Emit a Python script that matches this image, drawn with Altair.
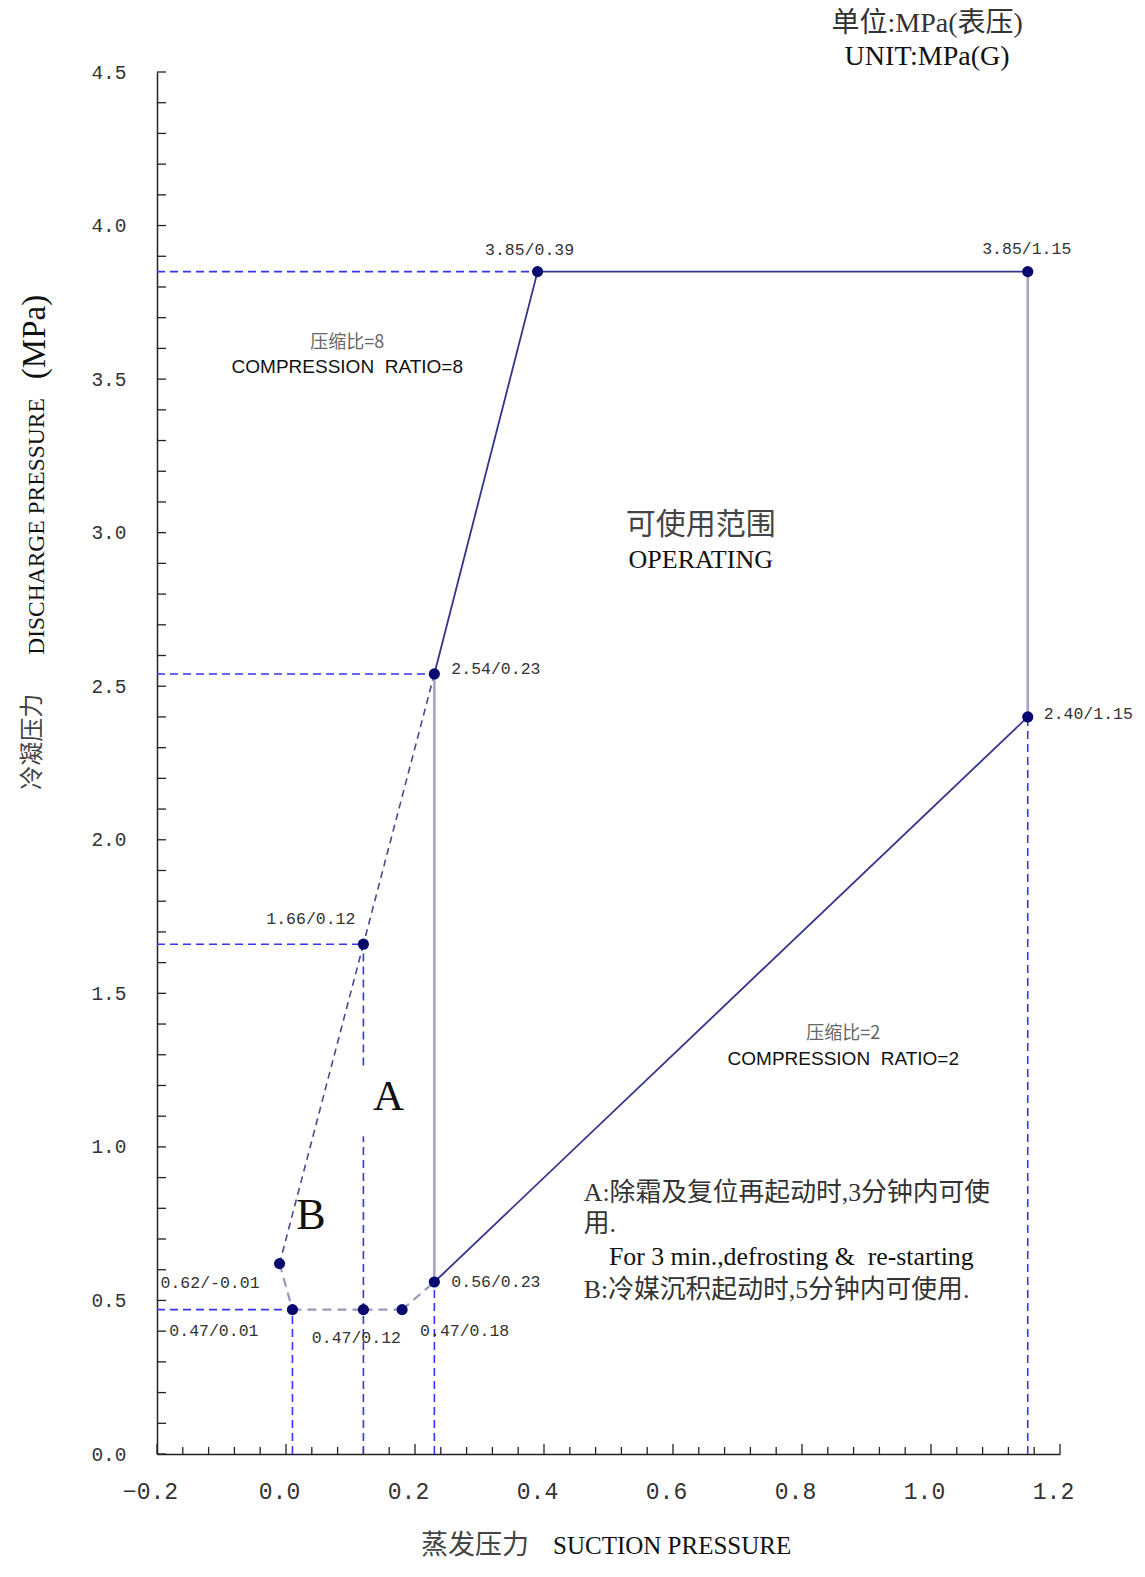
import altair as alt
import pandas as pd

# ---------------- data ----------------
suction = [0.39, 1.15, 1.15, 0.23, 0.23, 0.12, -0.01, 0.01, 0.12, 0.18]
discharge = [3.85, 3.85, 2.40, 2.54, 0.56, 1.66, 0.62, 0.47, 0.47, 0.47]
point_labels = ["3.85/0.39", "3.85/1.15", "2.40/1.15", "2.54/0.23", "0.56/0.23",
                "1.66/0.12", "0.62/-0.01", "0.47/0.01", "0.47/0.12", "0.47/0.18"]

# segments given as index pairs into the point lists
solid_pairs = [(0, 1), (2, 4), (3, 0)]
gray_pairs = [(1, 2), (4, 3)]
limit_pairs = [(3, 5), (5, 6)]
low_pairs = [(6, 7), (7, 8), (8, 9), (9, 4)]

# dashed guides to the axes
guide_h_idx = [0, 3, 5, 7]
guide_v_x = [0.01, 0.12, 0.12, 0.23, 1.15]
guide_v_from = [0.0, 0.0, 1.265, 0.0, 0.0]
guide_v_to = [0.47, 1.035, 1.66, 0.56, 2.40]

x_label_vals = [-0.2, 0.0, 0.2, 0.4, 0.6, 0.8, 1.0, 1.2]
y_label_vals = [0.0, 0.5, 1.0, 1.5, 2.0, 2.5, 3.0, 3.5, 4.0, 4.5]
x_minor_ticks = [round(-0.2 + 0.04 * i, 2) for i in range(36)]
y_minor_ticks = [round(0.1 * i, 1) for i in range(46)]

X0, X1, Y0, Y1 = -0.2, 1.2, 0.0, 4.5
W, H = 903, 1382

xs = alt.Scale(domain=[X0, X1], nice=False, zero=False)
ys = alt.Scale(domain=[Y0, Y1], nice=False, zero=False)

CJK = "'Noto Sans CJK SC'"
SERIF = "'Liberation Serif', 'Noto Sans CJK SC'"
MONO = "'Liberation Mono'"
NARROW = "'Liberation Sans Narrow', 'Liberation Sans', 'Noto Sans CJK SC'"

x_axis = alt.Axis(values=x_label_vals, format=".1f", title=None, grid=False, ticks=False,
                  domainColor="#222222", domainWidth=1.5, labelFont=MONO, labelFontSize=23,
                  labelColor="#333333", labelPadding=26, labelOffset=-7, labelFlush=False)
y_axis = alt.Axis(values=y_label_vals, format=".1f", title=None, grid=False, ticks=False,
                  domainColor="#222222", domainWidth=1.5, labelFont=MONO, labelFontSize=19.5,
                  labelColor="#333333", labelPadding=31, labelFlush=False)

def XE(f):
    return alt.X(f, scale=xs, axis=x_axis)

def YE(f):
    return alt.Y(f, scale=ys, axis=y_axis)

def seg_df(pairs):
    return pd.DataFrame({
        "x": [suction[a] for a, b in pairs],
        "y": [discharge[a] for a, b in pairs],
        "x2": [suction[b] for a, b in pairs],
        "y2": [discharge[b] for a, b in pairs],
    })

def seg_layer(df, **kw):
    return alt.Chart(df).mark_rule(**kw).encode(
        x=XE("x:Q"), y=YE("y:Q"), x2="x2:Q", y2="y2:Q")

# ---------------- inward ticks ----------------
xt = pd.DataFrame({"v": x_minor_ticks})
xt["major"] = [abs(round(v / 0.2) * 0.2 - v) < 1e-6 for v in x_minor_ticks]
yt = pd.DataFrame({"v": y_minor_ticks})

xticks_minor = alt.Chart(xt).transform_filter("!datum.major").mark_rule(
    color="#222222", strokeWidth=1.3).encode(
    x=XE("v:Q"), y=alt.value(H), y2=alt.value(H - 7))
xticks_major = alt.Chart(xt).transform_filter("datum.major").mark_rule(
    color="#222222", strokeWidth=1.3).encode(
    x=XE("v:Q"), y=alt.value(H), y2=alt.value(H - 10))
yticks = alt.Chart(yt).mark_rule(color="#222222", strokeWidth=1.3).encode(
    y=YE("v:Q"), x=alt.value(0), x2=alt.value(9))

# ---------------- guide lines ----------------
gh = pd.DataFrame({
    "x": [X0] * len(guide_h_idx),
    "y": [discharge[i] for i in guide_h_idx],
    "x2": [suction[i] for i in guide_h_idx],
    "y2": [discharge[i] for i in guide_h_idx],
})
gv = pd.DataFrame({"x": guide_v_x, "y": guide_v_from, "x2": guide_v_x, "y2": guide_v_to})
guide_h = seg_layer(gh, color="#3535f5", strokeWidth=1.6, strokeDash=[8, 5])
guide_v = seg_layer(gv, color="#3535f5", strokeWidth=1.6, strokeDash=[8, 5])

# ---------------- envelope ----------------
low = seg_layer(seg_df(low_pairs), color="#9898b8", strokeWidth=2.2, strokeDash=[9, 6])
limit = seg_layer(seg_df(limit_pairs), color="#4a4a8c", strokeWidth=1.6, strokeDash=[7, 5])
gray = seg_layer(seg_df(gray_pairs), color="#a4a4c6", strokeWidth=2.6)
solid = seg_layer(seg_df(solid_pairs), color="#34348c", strokeWidth=1.8)

pts = pd.DataFrame({"x": suction, "y": discharge, "t": point_labels})
points = alt.Chart(pts).mark_circle(size=125, color="#08086e", opacity=1).encode(
    x=XE("x:Q"), y=YE("y:Q"))

label_place = {
    "3.85/0.39": (-8, -22, "center"),
    "3.85/1.15": (-1, -23, "center"),
    "2.40/1.15": (16, -3, "left"),
    "2.54/0.23": (17, -5, "left"),
    "0.56/0.23": (17, 0, "left"),
    "1.66/0.12": (-8, -25, "right"),
    "0.62/-0.01": (-20, 19, "right"),
    "0.47/0.01": (-34, 21, "right"),
    "0.47/0.12": (-7, 28, "center"),
    "0.47/0.18": (18, 21, "left"),
}
label_layers = []
for lab, (dx, dy, al) in label_place.items():
    label_layers.append(
        alt.Chart(pts).transform_filter(alt.datum.t == lab).mark_text(
            font=MONO, fontSize=16.5, color="#333333", align=al, baseline="middle", dx=dx, dy=dy
        ).encode(x=XE("x:Q"), y=YE("y:Q"), text="t:N"))

# ---------------- annotations ----------------
def txt(texts, xv, yv, **kw):
    df = pd.DataFrame({"x": xv, "y": yv, "t": texts})
    kw.setdefault("baseline", "middle")
    return alt.Chart(df).mark_text(**kw).encode(x=XE("x:Q"), y=YE("y:Q"), text="t:N")

ann = [
    txt(["压缩比=8", "压缩比=2"], [0.095, 0.864], [3.617, 1.369],
        font=CJK, fontSize=18, color="#666666", align="center"),
    txt(["COMPRESSION\u00a0 RATIO=8", "COMPRESSION\u00a0 RATIO=2"], [0.095, 0.864], [3.538, 1.287],
        font=NARROW, fontSize=19, color="#111111", align="center"),
    txt(["可使用范围"], [0.643], [3.024], font=CJK, fontSize=30, color="#444444", align="center"),
    txt(["OPERATING"], [0.643], [2.912], font=SERIF, fontSize=26, color="#111111", align="center"),
    txt(["A"], [0.159], [1.162], font=SERIF, fontSize=43, color="#111111", align="center"),
    txt(["B"], [0.0388], [0.775], font=SERIF, fontSize=44, color="#111111", align="center"),
    txt(["A:除霜及复位再起动时,3分钟内可使", "用.", "B:冷媒沉积起动时,5分钟内可使用."],
        [0.4617, 0.4617, 0.4617], [0.851, 0.749, 0.533],
        font=SERIF, fontSize=25.8, color="#333333", align="left"),
    txt(["For 3 min.,defrosting &\u00a0 re-starting"], [0.5007], [0.641],
        font=SERIF, fontSize=25.8, color="#111111", align="left"),
    txt(["单位:MPa(表压)"], [0.994], [4.656], font=SERIF, fontSize=28, color="#333333", align="center"),
    txt(["UNIT:MPa(G)"], [0.994], [4.548], font=SERIF, fontSize=28, color="#111111", align="center"),
    txt(["蒸发压力"], [0.293], [-0.298], font=CJK, fontSize=27, color="#444444", align="center"),
    txt(["SUCTION PRESSURE"], [0.414], [-0.300], font=SERIF, fontSize=25, color="#111111", align="left"),
    txt(["冷凝压力"], [-0.392], [2.319], font=CJK, fontSize=24, color="#444444", align="center", angle=270),
    txt(["DISCHARGE PRESSURE"], [-0.386], [3.020], font=SERIF, fontSize=23.5, color="#111111", align="center", angle=270),
    txt(["(MPa)"], [-0.389], [3.637], font=SERIF, fontSize=33, color="#111111", align="center", angle=270),
]

chart = alt.layer(
    xticks_minor, xticks_major, yticks, guide_h, guide_v, low, limit, gray, solid, points,
    *label_layers, *ann
).properties(
    width=W, height=H,
    autosize=alt.AutoSizeParams(type="none"),
    padding={"left": 149, "top": 64, "right": 76, "bottom": 110},
).configure_view(strokeWidth=0)

chart.save("out.html", embed_options={"renderer": "svg", "actions": False})
